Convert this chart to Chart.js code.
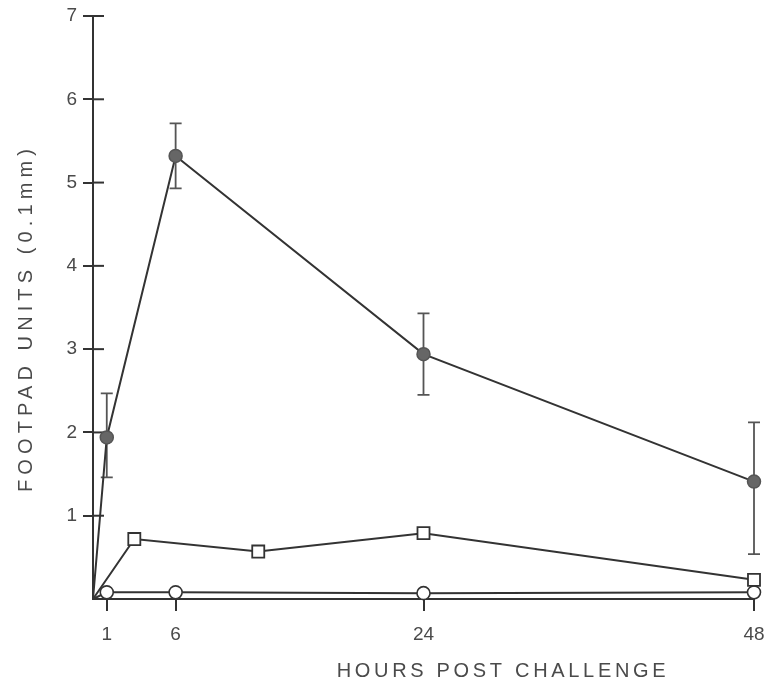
<!DOCTYPE html>
<html>
<head>
<meta charset="utf-8">
<script src="https://cdn.jsdelivr.net/npm/chart.js@4"></script>
<style>
  html, body { margin: 0; padding: 0; background: #fff; }
  canvas { display: block; }
</style>
</head>
<body>
<canvas id="chart" width="771" height="690"></canvas>
<script>
// Footpad swelling after challenge, three groups
const hourTicks = [1, 6, 24, 48];
const yTicks = [1, 2, 3, 4, 5, 6, 7];

// Group with error bars (filled circles)
const filledHours = [0, 1, 6, 24, 48];
const filledMean  = [0, 1.94, 5.32, 2.94, 1.41];
const filledLow   = [null, 1.46, 4.93, 2.45, 0.54];
const filledHigh  = [null, 2.47, 5.71, 3.43, 2.12];

// Open squares
const squareHours = [0, 3, 12, 24, 48];
const squareMean  = [0, 0.72, 0.57, 0.79, 0.23];

// Open circles
const openHours = [0, 1, 6, 24, 48];
const openMean  = [0, 0.08, 0.08, 0.07, 0.08];

const xTitle = 'HOURS POST CHALLENGE';
const yTitle = 'FOOTPAD UNITS (0.1mm)';

const ink = '#333';
const textInk = '#4a4a4a';
const FONT = '"Liberation Sans", Arial, sans-serif';

const pts = (xs, ys) => xs.map((x, i) => ({ x: x, y: ys[i] }));
const hideOrigin = (r) => (ctx) => ctx.dataIndex === 0 ? 0 : r;

// Error bars and inner y ticks, drawn through the chart's scales
const decorations = {
  id: 'decorations',
  beforeDatasetsDraw(chart) {
    const { ctx, scales: { x, y } } = chart;
    ctx.save();
    ctx.strokeStyle = '#555';
    ctx.lineWidth = 1.8;
    filledHours.forEach((h, i) => {
      if (filledLow[i] == null) return;
      const px = x.getPixelForValue(h);
      const top = y.getPixelForValue(filledHigh[i]);
      const bot = y.getPixelForValue(filledLow[i]);
      ctx.beginPath();
      ctx.moveTo(px, top); ctx.lineTo(px, bot);
      ctx.moveTo(px - 6, top); ctx.lineTo(px + 6, top);
      ctx.moveTo(px - 6, bot); ctx.lineTo(px + 6, bot);
      ctx.stroke();
    });
    // inner half of the y ticks
    ctx.strokeStyle = ink;
    ctx.lineWidth = 2;
    const x0 = x.getPixelForValue(0);
    yTicks.forEach(v => {
      const py = y.getPixelForValue(v);
      ctx.beginPath();
      ctx.moveTo(x0, py); ctx.lineTo(x0 + 11, py);
      ctx.stroke();
    });
    ctx.restore();
  },
  afterDraw(chart) {
    const { ctx } = chart;
    ctx.save();
    ctx.fillStyle = textInk;
    ctx.font = '20px ' + FONT;
    ctx.textAlign = 'center';
    ctx.textBaseline = 'middle';
    const spaced = (text, target) => {
      ctx.letterSpacing = '0px';
      const w = ctx.measureText(text).width;
      ctx.letterSpacing = ((target - w) / (text.length - 1)).toFixed(2) + 'px';
    };
    // x title
    spaced(xTitle, 329);
    ctx.fillText(xTitle, 503, 671);
    // y title
    ctx.translate(26, 318);
    ctx.rotate(-Math.PI / 2);
    spaced(yTitle, 343);
    ctx.fillText(yTitle, 0, 0);
    ctx.restore();
  }
};

new Chart(document.getElementById('chart'), {
  type: 'line',
  data: {
    datasets: [
      {
        label: 'filled',
        data: pts(filledHours, filledMean),
        borderColor: ink,
        borderWidth: 2,
        pointStyle: 'circle',
        pointRadius: hideOrigin(6.5),
        pointBackgroundColor: '#666',
        pointBorderColor: '#555',
        pointBorderWidth: 1.5,
        tension: 0
      },
      {
        label: 'squares',
        data: pts(squareHours, squareMean),
        borderColor: ink,
        borderWidth: 2,
        pointStyle: 'rect',
        pointRadius: hideOrigin(8.5),
        pointBackgroundColor: '#fff',
        pointBorderColor: ink,
        pointBorderWidth: 1.8,
        tension: 0
      },
      {
        label: 'open',
        data: pts(openHours, openMean),
        borderColor: ink,
        borderWidth: 2,
        pointStyle: 'circle',
        pointRadius: hideOrigin(6.5),
        pointBackgroundColor: '#fff',
        pointBorderColor: ink,
        pointBorderWidth: 1.6,
        tension: 0
      }
    ]
  },
  options: {
    responsive: false,
    animation: false,
    clip: false,
    layout: { padding: { left: 0, right: 17, top: 16, bottom: 0 } },
    plugins: { legend: { display: false }, tooltip: { enabled: false } },
    scales: {
      x: {
        type: 'linear',
        min: 0,
        max: 48,
        afterBuildTicks: (s) => { s.ticks = hourTicks.map(v => ({ value: v })); },
        afterFit: (s) => { s.height = 91; s.paddingRight = 0; s.paddingLeft = 0; },
        border: { display: true, color: ink, width: 2 },
        grid: { drawOnChartArea: false, tickLength: 12, color: ink, lineWidth: 2 },
        ticks: {
          autoSkip: false,
          maxRotation: 0,
          padding: 12,
          color: textInk,
          font: { family: FONT, size: 19 }
        }
      },
      y: {
        type: 'linear',
        min: 0,
        max: 7,
        afterBuildTicks: (s) => { s.ticks = yTicks.map(v => ({ value: v })); },
        afterFit: (s) => { s.width = 93; s.paddingTop = 0; s.paddingBottom = 0; },
        border: { display: true, color: ink, width: 2 },
        grid: { drawOnChartArea: false, tickLength: 10, color: ink, lineWidth: 2 },
        ticks: {
          padding: 6,
          color: textInk,
          font: { family: FONT, size: 19 }
        }
      }
    }
  },
  plugins: [decorations]
});
</script>
</body>
</html>
